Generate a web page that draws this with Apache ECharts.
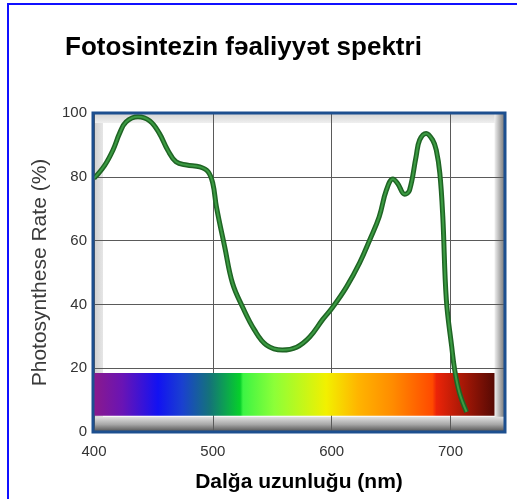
<!DOCTYPE html>
<html>
<head>
<meta charset="utf-8">
<script src="https://cdn.jsdelivr.net/npm/echarts@6/dist/echarts.min.js"></script>
<style>
html,body{margin:0;padding:0;background:#ffffff;}
#c{width:517px;height:499px;}
</style>
</head>
<body>
<div id="c"></div>
<script>
// ---- data ----
const TITLE = 'Fotosintezin fəaliyyət spektri';
const X_NAME = 'Dalğa uzunluğu (nm)';
const Y_NAME = 'Photosynthese Rate (%)';
const X_TICKS = [400, 500, 600, 700];
const Y_TICKS = [0, 20, 40, 60, 80, 100];
const X_RANGE = [400, 745];
const Y_RANGE = [0, 100];
// wavelength (nm)
const wavelength = [400, 409, 416, 421.5, 427, 437, 447, 455, 462, 469, 478, 489, 496, 500, 503,
  510, 516.5, 525, 535, 545, 558.5, 570.5, 581.5, 592.5, 601, 612.5, 623.5, 632, 640, 646, 651.5, 655.5,
  661.5, 665.5, 671, 674, 679.5, 685, 688, 691, 693.5, 696.5, 701, 703.5,
  707.5, 713.5];
// photosynthesis rate (%)
const rate = [79.5, 83.6, 88.4, 93.6, 97.2, 98.8, 97.5, 93.6, 88.4, 84.7, 83.7, 83.1, 81.6, 77.9, 70.6,
  58, 46.7, 39.2, 32, 27.3, 25.7, 26.6, 29.8, 35.3, 39.2, 45.5, 53, 60.2, 67.5, 75.8, 79.3, 77.9,
  74.5, 75.8, 86.3, 91.5, 93.6, 91.5, 88.4, 81.1, 67.5, 41.4, 26.7, 19.5,
  12.3, 6.3];
// visible spectrum band
const SPECTRUM_X = [400, 737];
const SPECTRUM_Y = [5.1, 18.5];
const SPECTRUM_STOPS = [
  [0.00, '#8a1a8c'], [0.07, '#6a14b4'], [0.16, '#1212f2'], [0.22, '#1a40d0'],
  [0.29, '#147478'], [0.365, '#06d02a'], [0.372, '#3cf444'], [0.45, '#8cff38'],
  [0.58, '#f2f000'], [0.66, '#ffb400'], [0.745, '#ff8c00'], [0.845, '#ff4a00'],
  [0.855, '#ec2408'], [1.00, '#560a04']
];

const FONT = '"Liberation Sans", Arial, Helvetica, sans-serif';
const curve = wavelength.map((w, i) => [w, rate[i]]);

const chart = echarts.init(document.getElementById('c'), null, {renderer: 'canvas'});
const option = {
  backgroundColor: '#ffffff',
  animation: false,
  title: {
    text: TITLE, left: 60, top: 30,
    textStyle: {fontFamily: FONT, fontSize: 26, fontWeight: 'bold', color: '#000'}
  },
  grid: {left: 94, top: 113, width: 410, height: 319, show: false},
  xAxis: {
    type: 'value', min: X_RANGE[0], max: X_RANGE[1], interval: 100,
    name: X_NAME, nameLocation: 'middle', nameGap: 40,
    nameTextStyle: {fontFamily: FONT, fontSize: 21, fontWeight: 'bold', color: '#000'},
    axisLine: {show: false}, axisTick: {show: false},
    axisLabel: {margin: 12, fontFamily: FONT, fontSize: 15, color: '#333',
      formatter: v => X_TICKS.includes(v) ? String(v) : ''},
    splitLine: {show: true, lineStyle: {color: '#5a5a5a', width: 1}}
  },
  yAxis: {
    type: 'value', min: Y_RANGE[0], max: Y_RANGE[1], interval: 20,
    name: Y_NAME, nameLocation: 'middle', nameGap: 39,
    nameTextStyle: {fontFamily: FONT, fontSize: 21, color: '#3a3a3a'},
    axisLine: {show: false}, axisTick: {show: false},
    axisLabel: {margin: 7, fontFamily: FONT, fontSize: 15, color: '#333',
      formatter: v => Y_TICKS.includes(v) ? String(v) : ''},
    splitLine: {show: true, lineStyle: {color: '#5a5a5a', width: 1}}
  },
  series: [
    {
      type: 'line', data: [], z: 1, silent: true,
      markArea: {
        silent: true,
        itemStyle: {
          color: new echarts.graphic.LinearGradient(0, 0, 1, 0,
            SPECTRUM_STOPS.map(s => ({offset: s[0], color: s[1]})))
        },
        data: [[{xAxis: SPECTRUM_X[0], yAxis: SPECTRUM_Y[0]}, {xAxis: SPECTRUM_X[1], yAxis: SPECTRUM_Y[1]}]]
      }
    },
    {
      type: 'line', data: curve, z: 3, showSymbol: false, smooth: 0.4,
      lineStyle: {color: '#1f6424', width: 5}
    },
    {
      type: 'line', data: curve, z: 4, showSymbol: false, smooth: 0.4,
      lineStyle: {color: '#3b9a42', width: 2}
    }
  ]
};
chart.setOption(option);

// decorative bevelled frame around the plot, positioned from the axes
const tl = chart.convertToPixel({gridIndex: 0}, [X_RANGE[0], Y_RANGE[1]]);
const br = chart.convertToPixel({gridIndex: 0}, [X_RANGE[1], Y_RANGE[0]]);
const specR = chart.convertToPixel({gridIndex: 0}, [SPECTRUM_X[1], SPECTRUM_Y[0]]);
const x0 = tl[0], y0 = tl[1], x1 = br[0], y1 = br[1];
const G = echarts.graphic.LinearGradient;
chart.setOption({
  graphic: [
    {type: 'rect', z: -10, shape: {x: x0, y: y0, width: 9, height: y1 - y0},
      style: {fill: new G(0, 0, 1, 0, [{offset: 0, color: '#cfcfcf'}, {offset: 1, color: '#e6e6e6'}])}},
    {type: 'rect', z: -10, shape: {x: x0, y: y0, width: x1 - x0, height: 10},
      style: {fill: new G(0, 0, 0, 1, [{offset: 0, color: '#d2d2d2'}, {offset: 1, color: '#efefef'}])}},
    {type: 'rect', z: -10, shape: {x: specR[0], y: y0, width: x1 - specR[0], height: y1 - y0},
      style: {fill: new G(0, 0, 1, 0, [{offset: 0, color: '#f0f0f0'}, {offset: 1, color: '#7c7c7c'}])}},
    {type: 'rect', z: -9, shape: {x: x0, y: specR[1] + 1, width: x1 - x0, height: y1 - specR[1] - 1},
      style: {fill: new G(0, 0, 0, 1, [{offset: 0, color: '#e2e2e2'}, {offset: 0.5, color: '#a8a8a8'}, {offset: 1, color: '#4e4e4e'}])}},
    {type: 'rect', z: 20, shape: {x: x0 - 1, y: y0, width: x1 - x0 + 2, height: y1 - y0},
      style: {fill: null, stroke: '#1d4f8f', lineWidth: 3}},
    {type: 'line', z: 30, shape: {x1: 8, y1: 3, x2: 8, y2: 499}, style: {stroke: '#1010ff', lineWidth: 2}},
    {type: 'line', z: 30, shape: {x1: 7, y1: 4, x2: 517, y2: 4}, style: {stroke: '#1010ff', lineWidth: 2}}
  ]
});
</script>
</body>
</html>
